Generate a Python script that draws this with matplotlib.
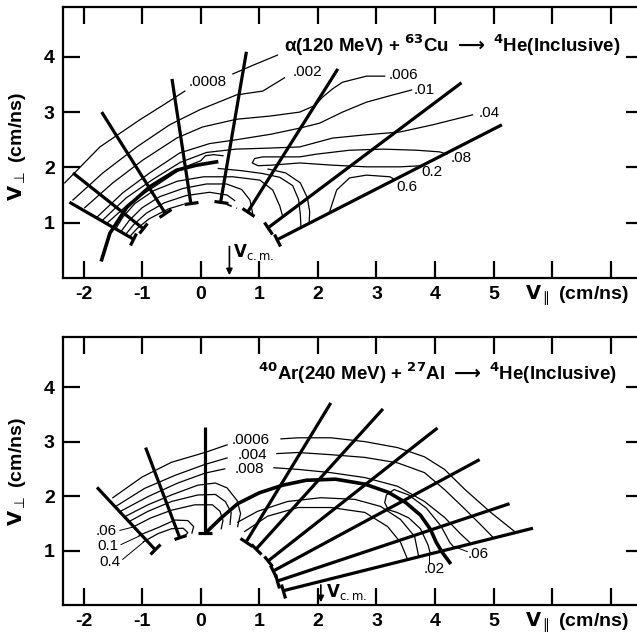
import matplotlib
matplotlib.use('Agg')
import matplotlib.pyplot as plt
from matplotlib.markers import MarkerStyle
from matplotlib.transforms import Affine2D
import numpy as np

plt.rcParams['font.family'] = ['Liberation Sans', 'DejaVu Sans']
plt.rcParams['mathtext.fontset'] = 'dejavusans'

XTICKS = [-2, -1, 0, 1, 2, 3, 4, 5, 6, 7]
XTICK_LABELS = ['-2', '-1', '0', '1', '2', '3', '4', '5', '', '']
YTICKS = [1, 2, 3, 4]

# ---------------- upper panel: alpha + Cu ----------------
top_rays = [((-2.18, 1.90), (-0.99, 0.90)),
            ((-2.24, 1.37), (-1.16, 0.71)),
            ((-1.69, 3.00), (-0.61, 1.18)),
            ((-0.49, 3.60), (-0.17, 1.36)),
            ((0.78, 4.09), (0.34, 1.37)),
            ((2.34, 3.78), (0.80, 1.19)),
            ((4.45, 3.53), (1.14, 0.90)),
            ((5.14, 2.77), (1.30, 0.69))]

top_arc = [(-1.69, 0.33), (-1.55, 0.81), (-1.26, 1.28), (-0.87, 1.65),
           (-0.41, 1.95), (-0.07, 2.04), (0.27, 2.10)]

top_c0008a = [(-2.32, 1.72), (-1.72, 2.37), (-1.04, 2.86), (-0.62, 3.14),
              (-0.27, 3.38)]
top_c0008b = [(0.55, 3.69), (0.90, 3.85), (1.31, 4.03)]
top_c002 = [(-2.18, 1.41), (-1.67, 1.90), (-1.09, 2.37), (-0.53, 2.77),
            (-0.02, 3.04), (0.61, 3.31), (1.06, 3.38), (1.43, 3.62)]
top_c006 = [(-1.98, 1.27), (-1.50, 1.72), (-0.99, 2.13), (-0.41, 2.53),
            (0.03, 2.73), (0.61, 2.87), (1.20, 2.93), (1.69, 3.00),
            (1.95, 3.12), (2.08, 3.27), (2.25, 3.42), (2.42, 3.54),
            (2.83, 3.65), (3.14, 3.65)]
top_c01 = [(-1.77, 1.10), (-1.33, 1.54), (-0.87, 1.90), (-0.36, 2.26),
           (0.15, 2.43), (0.61, 2.50), (1.20, 2.60), (1.69, 2.71),
           (2.03, 2.80), (2.42, 3.00), (2.83, 3.18), (3.28, 3.31),
           (3.60, 3.40)]
top_c04 = [(-1.68, 1.04), (-1.27, 1.45), (-0.82, 1.78), (-0.35, 2.09),
           (0.10, 2.27), (0.60, 2.33), (1.20, 2.35), (1.69, 2.37),
           (2.25, 2.53), (2.83, 2.59), (3.40, 2.64), (3.96, 2.77),
           (4.64, 2.95)]
top_hook = [(-1.60, 0.99), (-1.21, 1.36), (-0.75, 1.68), (-0.31, 1.99),
            (0.00, 2.12), (0.08, 2.21), (0.22, 2.23), (0.38, 2.21)]
top_c08_2 = [(3.77, 2.03), (3.40, 2.01), (2.83, 2.01), (2.25, 2.04),
             (1.69, 2.08), (1.20, 2.04), (0.98, 2.03), (0.88, 2.08),
             (0.92, 2.16), (1.06, 2.19), (1.69, 2.19), (1.98, 2.24),
             (2.54, 2.31), (3.11, 2.33), (3.69, 2.31), (4.08, 2.28),
             (4.20, 2.24)]
top_c6 = [(2.20, 1.20), (2.32, 1.59), (2.54, 1.81), (2.83, 1.86),
          (3.23, 1.83), (3.31, 1.78)]
top_in1 = [(-1.45, 0.89), (-1.33, 1.10), (-1.12, 1.35), (-0.80, 1.58),
           (-0.40, 1.75), (0.05, 1.83), (0.55, 1.83), (1.01, 1.77),
           (1.23, 1.59), (1.35, 1.30), (1.40, 1.11)]
top_in2 = [(-1.36, 0.84), (-1.22, 1.04), (-1.00, 1.27), (-0.70, 1.47),
           (-0.30, 1.62), (0.10, 1.70), (0.44, 1.70), (0.70, 1.60),
           (0.84, 1.41), (0.89, 1.15)]
top_in3 = [(-1.28, 0.79), (-1.14, 0.97), (-0.93, 1.17), (-0.62, 1.36),
           (-0.25, 1.49), (0.15, 1.55), (0.45, 1.50), (0.58, 1.40)]
top_in4 = [(-1.21, 0.75), (-1.08, 0.90), (-0.88, 1.07), (-0.55, 1.25),
           (-0.30, 1.33)]
top_dr1 = [(0.30, 1.98), (0.70, 1.94), (1.05, 1.89), (1.35, 1.82),
           (1.57, 1.67), (1.67, 1.42), (1.70, 1.15), (1.71, 0.93)]
top_dr2 = [(1.15, 1.97), (1.45, 1.90), (1.70, 1.72), (1.82, 1.45),
           (1.86, 1.20), (1.85, 0.98)]
top_dash = [(0.45, 1.33), (0.62, 1.26)]

top_contours = [top_c0008a, top_c0008b, top_c002, top_c006, top_c01,
                top_c04, top_hook, top_c08_2, top_c6, top_in1, top_in2,
                top_in3, top_in4, top_dr1, top_dr2]

top_labels = ['.0008', '.002', '.006', '.01', '.04', '.08', '0.2', '0.6']
top_label_xy = [(0.12, 3.54), (1.83, 3.73), (3.46, 3.67), (3.81, 3.40),
                (4.93, 2.98), (4.45, 2.17), (3.94, 1.92), (3.52, 1.65)]

top_vcm = 0.49

# ---------------- lower panel: Ar + Al ----------------
bot_rays = [((-1.77, 2.16), (-0.78, 1.02)),
            ((-0.94, 2.89), (-0.36, 1.24)),
            ((0.07, 3.27), (0.07, 1.33)),
            ((2.22, 3.71), (0.77, 1.15)),
            ((3.11, 3.60), (0.94, 1.02)),
            ((4.04, 3.25), (1.14, 0.80)),
            ((4.76, 2.67), (1.23, 0.62)),
            ((5.27, 1.86), (1.31, 0.44)),
            ((5.67, 1.41), (1.40, 0.26))]

bot_arc = [(0.09, 1.33), (0.35, 1.60), (0.63, 1.86), (1.00, 2.06),
           (1.40, 2.20), (1.80, 2.29), (2.30, 2.31), (2.80, 2.22),
           (3.20, 2.07), (3.50, 1.88), (3.75, 1.65), (3.92, 1.39),
           (4.02, 1.15), (4.12, 0.97), (4.25, 0.78)]

bot_c0006a = [(-1.50, 1.97), (-1.00, 2.35), (-0.50, 2.62), (0.07, 2.80),
              (0.45, 2.94)]
bot_c0006b = [(1.37, 3.05), (1.66, 3.07), (2.22, 3.07), (2.80, 3.00),
              (3.36, 2.89), (3.82, 2.72), (4.16, 2.49), (4.51, 2.12),
              (4.95, 1.70), (5.38, 1.33)]
bot_c004a = [(-1.45, 1.81), (-0.96, 2.14), (-0.44, 2.38), (0.07, 2.58),
             (0.45, 2.70)]
bot_c004b = [(1.30, 2.78), (1.66, 2.80), (2.22, 2.76), (2.80, 2.71),
             (3.36, 2.61), (3.82, 2.43), (4.16, 2.12), (4.51, 1.76),
             (4.80, 1.45), (5.00, 1.23)]
bot_c008a = [(-1.37, 1.72), (-0.90, 1.99), (-0.39, 2.24), (0.07, 2.42),
             (0.41, 2.50)]
bot_c008b = [(1.25, 2.52), (1.66, 2.49), (2.22, 2.43), (2.80, 2.34),
             (3.36, 2.18), (3.82, 1.90), (4.16, 1.61), (4.44, 1.30),
             (4.62, 1.12)]
bot_loop = [(4.33, 1.05), (4.25, 1.15), (4.10, 1.45), (3.85, 1.78),
            (3.55, 2.02), (3.30, 2.12), (3.17, 2.02), (3.14, 1.88),
            (3.20, 1.75), (3.35, 1.70), (3.55, 1.60), (3.75, 1.40),
            (3.88, 1.10), (3.92, 0.94)]
bot_up1 = [(0.63, 1.52), (0.97, 1.72), (1.48, 1.90), (2.05, 1.97),
           (2.63, 1.94), (3.07, 1.81), (3.41, 1.57), (3.65, 1.26),
           (3.72, 0.89)]
bot_up2 = [(0.75, 1.35), (1.14, 1.63), (1.66, 1.79), (2.22, 1.79),
           (2.80, 1.70), (3.19, 1.44), (3.41, 1.15), (3.53, 0.84)]
bot_l4 = [(-1.28, 1.63), (-0.90, 1.84), (-0.50, 2.02), (-0.05, 2.20),
          (0.25, 2.24), (0.45, 2.15), (0.62, 1.92), (0.68, 1.68),
          (0.63, 1.44)]
bot_l5 = [(-1.21, 1.54), (-0.90, 1.72), (-0.50, 1.90), (-0.05, 2.02),
          (0.25, 2.03), (0.42, 1.90), (0.52, 1.70), (0.50, 1.48)]
bot_l6 = [(-1.14, 1.44), (-0.85, 1.60), (-0.50, 1.74), (-0.10, 1.84),
          (0.20, 1.84), (0.33, 1.72), (0.38, 1.55), (0.35, 1.40)]
bot_l7 = [(-1.05, 1.28), (-0.73, 1.42), (-0.44, 1.56), (-0.22, 1.55),
          (-0.12, 1.44), (-0.15, 1.32)]
bot_l8 = [(-0.98, 1.16), (-0.73, 1.31), (-0.50, 1.40), (-0.30, 1.41),
          (-0.22, 1.33), (-0.27, 1.26)]

bot_contours = [bot_c0006a, bot_c0006b, bot_c004a, bot_c004b, bot_c008a,
                bot_c008b, bot_loop, bot_up1, bot_up2, bot_l4, bot_l5,
                bot_l6, bot_l7, bot_l8]

bot_labels = ['.0006', '.004', '.008', '.06', '0.1', '0.4', '.02', '.06']
bot_label_xy = [(0.85, 3.03), (0.89, 2.76), (0.84, 2.50), (-1.62, 1.35),
                (-1.59, 1.08), (-1.55, 0.79), (3.98, 0.66), (4.73, 0.93)]
bot_leaders = [((-1.38, 1.37), (-1.16, 1.43)),
               ((-1.36, 1.11), (-1.04, 1.27)),
               ((-1.33, 0.84), (-0.97, 1.16)),
               ((3.90, 0.77), (3.90, 0.95)),
               ((4.55, 0.98), (4.33, 1.07))]

bot_vcm = 2.05


def draw_ray(ax, p0, p1):
    ax.plot([p0[0], p1[0]], [p0[1], p1[1]], color='k', lw=2.3,
            solid_capstyle='butt')
    d = ax.transData.transform([p1])[0] - ax.transData.transform([p0])[0]
    ang = np.degrees(np.arctan2(d[1], d[0]))
    m = MarkerStyle('_', transform=Affine2D().rotate_deg(ang + 90))
    ax.plot(p1[0], p1[1], marker=m, ms=10, mew=2.3, color='k')


def setup_axes(ax, ytop, title, title_xy):
    ax.set_xlim(-2.35, 7.55)
    ax.set_ylim(0, ytop)
    ax.set_xticks(XTICKS)
    ax.set_xticklabels(XTICK_LABELS)
    ax.set_yticks(YTICKS)
    ax.tick_params(direction='in', length=12, width=1.6, top=True,
                   right=True, labelsize=14, pad=6)
    for lab in ax.get_xticklabels() + ax.get_yticklabels():
        lab.set_fontweight('bold')
    for s in ax.spines.values():
        s.set_linewidth(1.6)
    ax.text(title_xy[0], title_xy[1], title, fontsize=13.5,
            fontweight='bold', ha='left', va='center')


fig = plt.figure(figsize=(6.37, 6.36), dpi=100)
ax1 = fig.add_axes([0.0989, 0.5629, 0.9107, 0.4261])
ax2 = fig.add_axes([0.0989, 0.0487, 0.9107, 0.4214])

setup_axes(ax1, 4.9,
           r'α(120 MeV) + $^{\mathbf{63}}$Cu '
           r'$\mathbf{\longrightarrow}$ $^{\mathbf{4}}$He(Inclusive)',
           (1.43, 4.20))
setup_axes(ax2, 4.92,
           r'$^{\mathbf{40}}$Ar(240 MeV) + $^{\mathbf{27}}$Al '
           r'$\mathbf{\longrightarrow}$ $^{\mathbf{4}}$He(Inclusive)',
           (0.98, 4.26))

# upper panel marks
for p0, p1 in top_rays:
    draw_ray(ax1, p0, p1)
ax1.plot(*zip(*top_arc), color='k', lw=2.6)
for c in top_contours:
    ax1.plot(*zip(*c), color='k', lw=0.9)
ax1.plot(*zip(*top_dash), color='k', lw=1.2, ls=(0, (3, 3)))
for s, (x, y) in zip(top_labels, top_label_xy):
    ax1.text(x, y, s, fontsize=11, ha='center', va='center')
ax1.annotate('', xy=(top_vcm, 0), xytext=(top_vcm, 0.62),
             arrowprops=dict(arrowstyle='-|>', color='k', lw=1.2,
                             mutation_scale=9))
ax1.text(top_vcm + 0.06, 0.47, r'$\mathbf{V}_{\mathrm{c.m.}}$',
         fontsize=12, ha='left', va='center')

# lower panel marks
for p0, p1 in bot_rays:
    draw_ray(ax2, p0, p1)
ax2.plot(*zip(*bot_arc), color='k', lw=2.6)
for c in bot_contours:
    ax2.plot(*zip(*c), color='k', lw=0.9)
for p0, p1 in bot_leaders:
    ax2.plot([p0[0], p1[0]], [p0[1], p1[1]], color='k', lw=0.7)
for s, (x, y) in zip(bot_labels, bot_label_xy):
    ax2.text(x, y, s, fontsize=11, ha='center', va='center')
ax2.annotate('', xy=(bot_vcm, 0), xytext=(bot_vcm, 0.42),
             arrowprops=dict(arrowstyle='-|>', color='k', lw=1.2,
                             mutation_scale=9))
ax2.text(bot_vcm + 0.08, 0.24, r'$\mathbf{V}_{\mathrm{c.m.}}$',
         fontsize=12, ha='left', va='center')

# axis labels
for ax in (ax1, ax2):
    ax.text(0.885, -0.065, r'$\mathbf{V}_{\parallel}$ (cm/ns)',
            transform=ax.transAxes, fontsize=14, fontweight='bold',
            ha='center', va='center')
fig.text(0.027, 0.769, r'$\mathbf{V}_{\bot}$ (cm/ns)', rotation=90,
         fontsize=14, fontweight='bold', ha='center', va='center')
fig.text(0.027, 0.258, r'$\mathbf{V}_{\bot}$ (cm/ns)', rotation=90,
         fontsize=14, fontweight='bold', ha='center', va='center')

fig.savefig('out.png', dpi=100, facecolor='white')
